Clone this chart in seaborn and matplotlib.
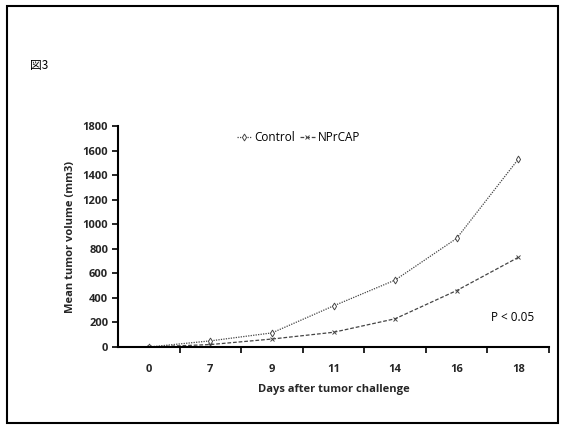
"""Mean tumor volume after tumor challenge (figure 3)."""

import matplotlib

matplotlib.use("Agg")

import matplotlib.pyplot as plt
import numpy as np
import pandas as pd
import seaborn as sns
from matplotlib.patches import Rectangle


DAYS = ["0", "7", "9", "11", "14", "16", "18"]
CONTROL = [0, 50, 115, 335, 545, 885, 1530]
NPRCAP = [0, 20, 65, 120, 230, 460, 730]
GROUPS = ["Control", "NPrCAP"]
Y_TICKS = list(range(0, 1801, 200))


def build_frame() -> pd.DataFrame:
    rows = []
    for group, values in zip(GROUPS, [CONTROL, NPRCAP]):
        for day, value in zip(DAYS, values):
            rows.append({"day": day, "volume": value, "group": group})
    return pd.DataFrame(rows)


def main() -> None:
    sns.set_theme(style="white")
    plt.rcParams["font.family"] = ["Open Sans", "Noto Sans CJK JP", "DejaVu Sans"]
    plt.rcParams["text.color"] = "black"

    df = build_frame()
    fig = plt.figure(figsize=(5.65, 4.25), dpi=100)
    ax = fig.add_axes([0.2088, 0.1835, 0.763, 0.52])

    sns.pointplot(
        data=df,
        x="day",
        y="volume",
        hue="group",
        order=DAYS,
        hue_order=GROUPS,
        palette=["#444444", "#444444"],
        markers=["d", "x"],
        linestyles=[(0, (1, 1)), (0, (3, 1.5))],
        linewidth=0.9,
        markersize=3.5,
        markerfacecolor="white",
        ax=ax,
    )

    ax.set_xlim(-0.5, 6.5)
    ax.set_ylim(0, 1800)
    ax.set_yticks(Y_TICKS)
    ax.set_yticklabels([str(v) for v in Y_TICKS], fontweight="bold", fontsize=8)
    ax.set_xticks(range(len(DAYS)))
    ax.set_xticklabels(DAYS, fontweight="bold", fontsize=8)
    ax.set_xticks(np.arange(0.5, 7, 1), minor=True)
    ax.tick_params(axis="x", which="major", length=0, pad=12)
    ax.tick_params(axis="x", which="minor", length=4, width=1.2, direction="out", color="black", bottom=True)
    ax.tick_params(axis="y", length=4, width=1.2, direction="out", color="black", left=True, pad=3)

    for side in ["top", "right"]:
        ax.spines[side].set_visible(False)
    for side in ["left", "bottom"]:
        ax.spines[side].set_color("black")
        ax.spines[side].set_linewidth(1.5)

    ax.set_xlabel("Days after tumor challenge", fontweight="bold", fontsize=8, labelpad=7)
    ax.set_ylabel("Mean tumor volume (mm3)", fontweight="bold", fontsize=8, labelpad=5)

    ax.legend(
        loc="center",
        bbox_to_anchor=(0.418, 0.946),
        ncol=2,
        frameon=False,
        fontsize=8.5,
        handlelength=1.3,
        handletextpad=0.2,
        columnspacing=0.4,
    )

    ax.text(0.915, 0.135, "P < 0.05", transform=ax.transAxes, ha="center", va="center", fontsize=8.5)
    fig.text(0.053, 0.845, "図3", ha="left", va="center", fontsize=8.5,
             family=["Noto Sans CJK JP", "DejaVu Sans"])

    fig.patches.append(
        Rectangle((0.013, 0.005), 0.975, 0.98, transform=fig.transFigure,
                  fill=False, edgecolor="black", linewidth=1.5)
    )

    fig.savefig("out.png", dpi=100)
    plt.close(fig)


if __name__ == "__main__":
    main()
